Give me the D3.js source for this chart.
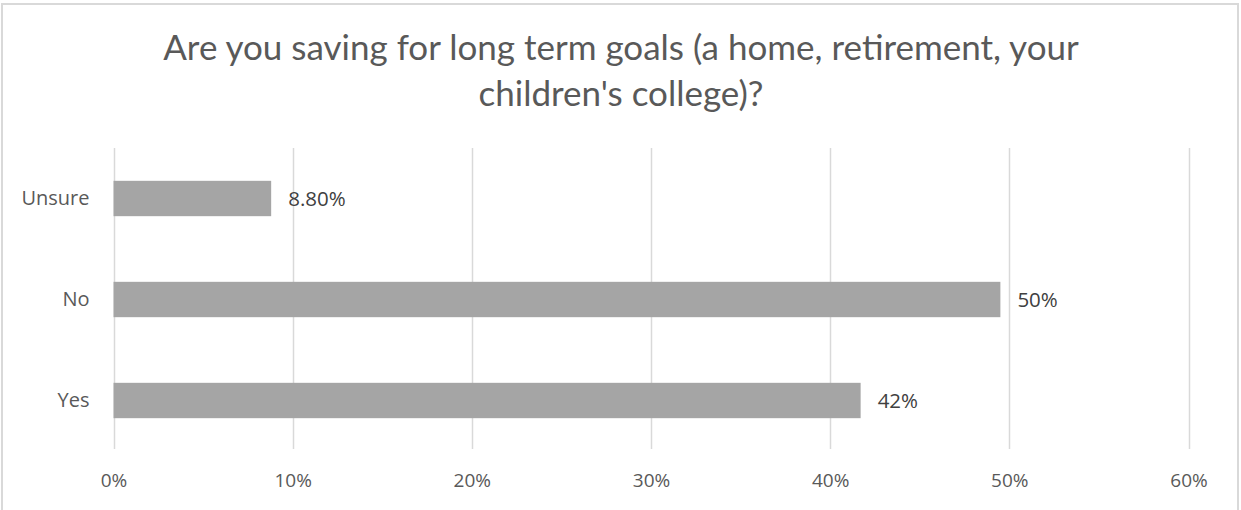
<!DOCTYPE html>
<html>
<head>
<meta charset="utf-8">
<script src="https://cdn.jsdelivr.net/npm/d3@7"></script>
<style>
  html, body { margin: 0; padding: 0; background: #fff; }
  svg { display: block; }
</style>
</head>
<body>
<svg id="chart" width="1241" height="510"></svg>
<script>
// Survey answers, bottom to top as drawn
const categories = ["Yes", "No", "Unsure"];
const shares = [0.417, 0.495, 0.088];
const labelDigits = [0, 0, 2];
const tickValues = [0, 0.1, 0.2, 0.3, 0.4, 0.5, 0.6];
const titleLines = [
  "Are you saving for long term goals (a home, retirement, your",
  "children's college)?"
];

const svg = d3.select("#chart");
const font = "'Open Sans', 'Noto Sans', sans-serif";

// Chart frame
svg.append("rect")
  .attr("x", 2).attr("y", 4)
  .attr("width", 1236).attr("height", 540)
  .attr("fill", "#fff").attr("stroke", "#d9d9d9").attr("stroke-width", 2);

// Title
const title = svg.append("text")
  .attr("text-anchor", "middle")
  .attr("font-family", "Lato, 'Open Sans', sans-serif")
  .attr("font-weight", 400)
  .attr("font-size", 35)
  .attr("fill", "#595959");
title.selectAll("tspan").data(titleLines).join("tspan")
  .attr("x", 621)
  .attr("y", (d, i) => 60 + i * 46)
  .text(d => d);

const plot = { left: 113.5, right: 1188.5, top: 148, bottom: 451 };

const x = d3.scaleLinear().domain([0, 0.6]).range([plot.left, plot.right]);
const y = d3.scaleBand()
  .domain(categories.slice().reverse())
  .range([plot.top, plot.bottom])
  .paddingInner(0.65)
  .paddingOuter(0.325);

// Vertical gridlines
svg.append("g").selectAll("line").data(tickValues).join("line")
  .attr("x1", d => Math.round(x(d)) + 0.5)
  .attr("x2", d => Math.round(x(d)) + 0.5)
  .attr("y1", plot.top)
  .attr("y2", plot.bottom - 2)
  .attr("stroke", "#d9d9d9")
  .attr("stroke-width", 1.5);

// X axis tick labels
const xAxis = svg.append("g")
  .attr("transform", `translate(0,${plot.bottom})`)
  .call(d3.axisBottom(x).tickValues(tickValues).tickFormat(d3.format(".0%")).tickSize(0).tickPadding(23));
xAxis.select(".domain").remove();
xAxis.selectAll("text")
  .attr("font-family", font)
  .attr("font-size", 19)
  .attr("fill", "#595959");

// Category labels
const yAxis = svg.append("g")
  .attr("transform", `translate(${plot.left},0)`)
  .call(d3.axisLeft(y).tickSize(0).tickPadding(24));
yAxis.select(".domain").remove();
yAxis.selectAll("text")
  .attr("font-family", font)
  .attr("font-size", 20)
  .attr("fill", "#595959");

const rows = categories.map((c, i) => ({ cat: c, value: shares[i], digits: labelDigits[i] }));

// Bars
svg.append("g").selectAll("rect").data(rows).join("rect")
  .attr("x", x(0))
  .attr("y", d => y(d.cat))
  .attr("width", d => x(d.value) - x(0))
  .attr("height", y.bandwidth())
  .attr("fill", "#a5a5a5");

// Value labels
svg.append("g").selectAll("text").data(rows).join("text")
  .attr("x", d => x(d.value) + 17)
  .attr("y", d => y(d.cat) + y.bandwidth() / 2)
  .attr("dy", "0.36em")
  .attr("font-family", font)
  .attr("font-size", 20.5)
  .attr("fill", "#404040")
  .text(d => d3.format(`.${d.digits}%`)(d.value + (d.digits === 0 ? 1e-9 : 0)));
</script>
</body>
</html>
